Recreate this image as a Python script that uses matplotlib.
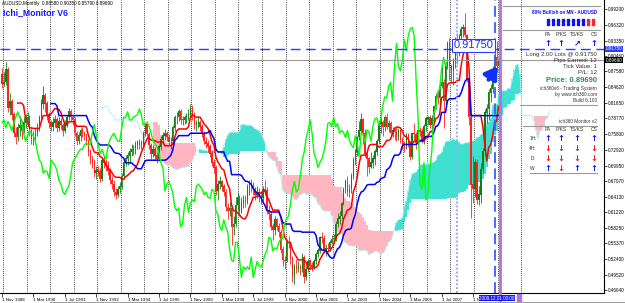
import numpy as np
import pandas as pd
import matplotlib.pyplot as plt

# AUDUSD monthly bars, Nov 1988 .. Dec 2009 (open = previous close)
first_open = 0.870
closes = [
    0.852, 0.856,
    0.880, 0.808, 0.820, 0.795, 0.760, 0.752, 0.770, 0.775, 0.765, 0.780, 0.785, 0.790,
    0.765, 0.750, 0.755, 0.760, 0.770, 0.790, 0.815, 0.830, 0.815, 0.795, 0.780, 0.772,
    0.780, 0.785, 0.770, 0.782, 0.775, 0.765, 0.778, 0.790, 0.800, 0.790, 0.785, 0.760,
    0.745, 0.755, 0.765, 0.760, 0.755, 0.745, 0.725, 0.710, 0.705, 0.685, 0.690, 0.688,
    0.675, 0.710, 0.705, 0.700, 0.690, 0.672, 0.665, 0.650, 0.645, 0.655, 0.660, 0.680,
    0.705, 0.712, 0.718, 0.725, 0.730, 0.730, 0.738, 0.742, 0.738, 0.740, 0.760, 0.776,
    0.758, 0.738, 0.722, 0.730, 0.718, 0.712, 0.735, 0.748, 0.755, 0.760, 0.752, 0.745,
    0.745, 0.770, 0.790, 0.790, 0.800, 0.785, 0.785, 0.790, 0.792, 0.795, 0.805, 0.795,
    0.775, 0.778, 0.780, 0.772, 0.760, 0.745, 0.740, 0.735, 0.722, 0.705, 0.695, 0.652,
    0.665, 0.670, 0.660, 0.650, 0.622, 0.615, 0.620, 0.585, 0.590, 0.625, 0.640, 0.612,
    0.630, 0.635, 0.632, 0.660, 0.665, 0.660, 0.655, 0.645, 0.650, 0.640, 0.638, 0.655,
    0.652, 0.615, 0.608, 0.585, 0.578, 0.598, 0.585, 0.575, 0.542, 0.522, 0.520, 0.556,
    0.555, 0.525, 0.490, 0.510, 0.505, 0.510, 0.505, 0.528, 0.490, 0.505, 0.520, 0.512,
    0.510, 0.520, 0.533, 0.540, 0.565, 0.563, 0.540, 0.545, 0.543, 0.555, 0.562, 0.563,
    0.590, 0.600, 0.605, 0.628, 0.655, 0.670, 0.650, 0.655, 0.680, 0.710, 0.725, 0.752,
    0.765, 0.785, 0.760, 0.722, 0.712, 0.696, 0.705, 0.712, 0.725, 0.745, 0.778, 0.780,
    0.772, 0.790, 0.772, 0.778, 0.760, 0.765, 0.762, 0.752, 0.765, 0.748, 0.738, 0.733,
    0.755, 0.742, 0.716, 0.760, 0.758, 0.742, 0.766, 0.763, 0.745, 0.773, 0.787, 0.789,
    0.775, 0.787, 0.810, 0.828, 0.826, 0.848, 0.855, 0.820, 0.885, 0.928, 0.885, 0.877,
    0.897, 0.935, 0.914, 0.942, 0.955, 0.958, 0.943, 0.860, 0.790, 0.664, 0.655, 0.705,
    0.635, 0.645, 0.693, 0.726, 0.798, 0.806, 0.836, 0.843, 0.880, 0.902, 0.886, 0.8969,
]
highs = [
    0.882, 0.875,
    0.893, 0.884, 0.835, 0.825, 0.800, 0.772, 0.780, 0.792, 0.785, 0.790, 0.796, 0.800,
    0.795, 0.770, 0.765, 0.770, 0.780, 0.795, 0.825, 0.848, 0.835, 0.820, 0.800, 0.785,
    0.790, 0.795, 0.790, 0.790, 0.788, 0.780, 0.785, 0.795, 0.808, 0.805, 0.795, 0.790,
    0.765, 0.762, 0.770, 0.772, 0.765, 0.760, 0.750, 0.730, 0.720, 0.712, 0.698, 0.698,
    0.695, 0.715, 0.718, 0.712, 0.708, 0.695, 0.680, 0.672, 0.658, 0.662, 0.668, 0.685,
    0.710, 0.720, 0.725, 0.732, 0.740, 0.738, 0.745, 0.748, 0.750, 0.748, 0.765, 0.780,
    0.782, 0.762, 0.742, 0.738, 0.735, 0.725, 0.740, 0.755, 0.762, 0.768, 0.765, 0.758,
    0.752, 0.775, 0.795, 0.800, 0.806, 0.805, 0.792, 0.795, 0.798, 0.805, 0.815, 0.812,
    0.800, 0.785, 0.790, 0.785, 0.778, 0.765, 0.752, 0.748, 0.740, 0.728, 0.712, 0.700,
    0.672, 0.680, 0.672, 0.665, 0.655, 0.630, 0.632, 0.625, 0.605, 0.640, 0.650, 0.645,
    0.640, 0.645, 0.645, 0.665, 0.672, 0.675, 0.668, 0.660, 0.662, 0.658, 0.650, 0.662,
    0.672, 0.660, 0.625, 0.615, 0.592, 0.605, 0.602, 0.592, 0.580, 0.548, 0.530, 0.562,
    0.568, 0.558, 0.530, 0.515, 0.525, 0.520, 0.515, 0.535, 0.532, 0.512, 0.525, 0.525,
    0.518, 0.525, 0.538, 0.545, 0.568, 0.575, 0.570, 0.552, 0.555, 0.560, 0.570, 0.572,
    0.595, 0.610, 0.615, 0.632, 0.660, 0.675, 0.680, 0.665, 0.685, 0.715, 0.730, 0.755,
    0.782, 0.798, 0.788, 0.768, 0.725, 0.715, 0.725, 0.720, 0.730, 0.750, 0.785, 0.790,
    0.785, 0.795, 0.798, 0.785, 0.782, 0.772, 0.770, 0.772, 0.770, 0.768, 0.752, 0.745,
    0.760, 0.760, 0.745, 0.762, 0.780, 0.762, 0.770, 0.772, 0.770, 0.778, 0.792, 0.792,
    0.795, 0.795, 0.812, 0.835, 0.838, 0.852, 0.888, 0.862, 0.888, 0.932, 0.939, 0.890,
    0.900, 0.940, 0.948, 0.945, 0.960, 0.965, 0.985, 0.945, 0.878, 0.800, 0.718, 0.712,
    0.712, 0.662, 0.705, 0.732, 0.805, 0.815, 0.842, 0.852, 0.885, 0.935, 0.933, 0.9035,
]
lows = [
    0.845, 0.848,
    0.850, 0.800, 0.795, 0.785, 0.752, 0.740, 0.745, 0.755, 0.750, 0.760, 0.770, 0.775,
    0.755, 0.740, 0.738, 0.745, 0.755, 0.765, 0.785, 0.805, 0.800, 0.785, 0.770, 0.765,
    0.765, 0.772, 0.762, 0.765, 0.768, 0.755, 0.760, 0.772, 0.785, 0.782, 0.775, 0.755,
    0.738, 0.740, 0.745, 0.752, 0.748, 0.738, 0.718, 0.702, 0.695, 0.678, 0.675, 0.680,
    0.668, 0.670, 0.695, 0.690, 0.682, 0.665, 0.655, 0.642, 0.637, 0.640, 0.648, 0.655,
    0.675, 0.698, 0.700, 0.705, 0.718, 0.720, 0.722, 0.730, 0.730, 0.730, 0.735, 0.755,
    0.750, 0.730, 0.712, 0.715, 0.710, 0.705, 0.708, 0.728, 0.740, 0.748, 0.745, 0.738,
    0.730, 0.738, 0.765, 0.778, 0.782, 0.778, 0.775, 0.778, 0.780, 0.785, 0.790, 0.785,
    0.768, 0.765, 0.770, 0.765, 0.752, 0.740, 0.732, 0.725, 0.715, 0.698, 0.685, 0.645,
    0.635, 0.655, 0.652, 0.642, 0.615, 0.600, 0.605, 0.550, 0.570, 0.585, 0.615, 0.605,
    0.610, 0.620, 0.622, 0.628, 0.645, 0.650, 0.645, 0.635, 0.638, 0.632, 0.628, 0.632,
    0.645, 0.608, 0.598, 0.578, 0.560, 0.570, 0.578, 0.565, 0.535, 0.512, 0.505, 0.518,
    0.545, 0.515, 0.482, 0.4775, 0.498, 0.500, 0.495, 0.500, 0.480, 0.485, 0.500, 0.505,
    0.502, 0.505, 0.515, 0.528, 0.535, 0.555, 0.535, 0.530, 0.538, 0.540, 0.552, 0.555,
    0.558, 0.585, 0.590, 0.600, 0.625, 0.648, 0.642, 0.640, 0.648, 0.675, 0.700, 0.718,
    0.748, 0.760, 0.740, 0.715, 0.680, 0.685, 0.695, 0.695, 0.700, 0.720, 0.740, 0.760,
    0.755, 0.765, 0.768, 0.762, 0.755, 0.752, 0.748, 0.745, 0.748, 0.742, 0.730, 0.725,
    0.730, 0.735, 0.710, 0.712, 0.745, 0.730, 0.738, 0.755, 0.742, 0.740, 0.765, 0.775,
    0.770, 0.772, 0.780, 0.805, 0.815, 0.815, 0.845, 0.770, 0.815, 0.880, 0.860, 0.855,
    0.850, 0.882, 0.890, 0.905, 0.925, 0.940, 0.940, 0.855, 0.775, 0.601, 0.630, 0.640,
    0.628, 0.625, 0.630, 0.685, 0.720, 0.780, 0.785, 0.818, 0.835, 0.865, 0.875, 0.8579,
]

price_ticks = [0.99200, 0.96320, 0.93350, 0.90460, 0.87580, 0.84620, 0.81650, 0.78770,
               0.75800, 0.72920, 0.69950, 0.67070, 0.64130, 0.61220, 0.58250, 0.55370,
               0.52400, 0.49520, 0.46640]
# the last date label is hidden behind the cursor date box, only "1 N" shows
date_labels = ["1 Nov 1988", "1 Mar 1990", "1 Jul 1991", "1 Nov 1992", "1 Mar 1994",
               "1 Jul 1995", "1 Nov 1996", "1 Mar 1998", "1 Jul 1999", "1 Nov 2000",
               "1 Mar 2002", "1 Jul 2003", "1 Nov 2004", "1 Mar 2006", "1 Jul 2007",
               "1 N"]
entry_price = 0.91750
bid_price = 0.89690

plt.rcParams['font.family'] = ['Liberation Sans', 'DejaVu Sans']

W, H = 625, 303
fig = plt.figure(figsize=(W / 100, H / 100), dpi=100)
ax = fig.add_axes([0, 10 / H, 604 / W, 293 / H])


def ftext(x, y, s, **kw):
    # text placed in screen pixels (from top-left)
    kw.setdefault('va', 'center')
    return fig.text(x / W, 1 - y / H, s, **kw)


def fline(x0, x1, y, **kw):
    fig.add_artist(plt.Line2D([x0 / W, x1 / W], [1 - y / H, 1 - y / H], **kw))


n = len(closes)
xs = np.arange(n)
c = np.array(closes)
o = np.concatenate([[first_open], c[:-1]])
hi = pd.Series(highs)
lo = pd.Series(lows)

# ichimoku 9 / 26 / 52
tenkan = (hi.rolling(9).max() + lo.rolling(9).min()) / 2
kijun = (hi.rolling(26).max() + lo.rolling(26).min()) / 2
span_a = ((tenkan + kijun) / 2).values
span_b = ((hi.rolling(52).max() + lo.rolling(52).min()) / 2).values
xc = xs + 26

ax.fill_between(xc, span_a, span_b, where=span_a >= span_b, step='mid',
                color='#40e0d0', lw=0, zorder=1)
ax.fill_between(xc, span_a, span_b, where=span_a < span_b, step='mid',
                color='#ffb6c1', lw=0, zorder=1)
ax.plot(xc, span_a, color='#b0f0f0', lw=0.7, zorder=1.2)

# candles
up = c >= o
col = np.where(up, '#138013', '#ff2020')
ax.vlines(xs, lows, highs, colors=col, lw=0.6, zorder=2)
ax.bar(xs, np.abs(c - o) + 0.0008, bottom=np.minimum(o, c), width=0.75,
       color=col, lw=0, zorder=2.1)

ax.plot(xs, tenkan, color='#ff0000', lw=1.1, zorder=3)
ax.plot(xs, kijun, color='#0000ff', lw=1.1, zorder=3)
ax.plot(xs[26:] - 26, c[26:], color='#00ff00', lw=1.0, zorder=3)

# yearly grid
for gx in range(0, 266, 12):
    ax.axvline(gx + 0.5, color='black', lw=0.6, ls=(0, (1, 1.6)), zorder=0.5)

# trade lines
ax.axhline(entry_price, color='#2a3cff', lw=1.0, ls=(0, (7, 4)), zorder=4)
ax.axhline(bid_price, color='#9a9a9a', lw=0.8, zorder=4)
ax.axvline(232, color='#9aa8ff', lw=1.4, ls=(0, (1, 1)), zorder=4)
ax.axvline(251.4, color='#3c5aff', lw=1.3, ls=(0, (6, 3)), zorder=4)
ax.axvline(253.8, ymin=-10 / 293, ymax=1, color='#b46ee6', lw=2.0, zorder=4,
           clip_on=False)
# buy arrow (screen pixels, origin bottom-left)
ax.annotate('', xy=(499, H - 64), xytext=(487, H - 82), xycoords='figure pixels',
            textcoords='figure pixels',
            arrowprops=dict(arrowstyle='-|>,head_width=0.45,head_length=0.7',
                            color='#1030ff', lw=3), zorder=5)
ax.text(240.3, entry_price + 0.0075, '0.91750', fontsize=8, color='#1a2cff',
        ha='center', va='center', zorder=6,
        family=['Liberation Sans Narrow', 'Liberation Sans'],
        bbox=dict(boxstyle='square,pad=0.14', fc='white', ec='#2a3cff', lw=0.8))

ax.set_xlim(-1.02, 306.75)
ax.set_ylim(0.4609, 1.0094)
ax.yaxis.tick_right()
ax.set_yticks(price_ticks)
ax.set_yticklabels([f'{p:.5f}' for p in price_ticks])
ax.set_xticks(xs[::16][:len(date_labels)])
ax.set_xticklabels(date_labels)
for lbl in ax.get_xticklabels():
    lbl.set_ha('left')
ax.tick_params(axis='y', labelsize=3.3, length=2, width=0.5, pad=1)
ax.tick_params(axis='x', labelsize=3.2, length=3, width=0.5, pad=0.5)
ax.spines['top'].set_visible(False)
ax.spines['left'].set_visible(False)
ax.spines['right'].set_linewidth(0.8)
ax.spines['bottom'].set_linewidth(0.8)

# price tags on the axis
ftext(614, 49, '0.91750', fontsize=3.3, color='white', ha='center',
      bbox=dict(boxstyle='square,pad=0.15', fc='#2a3cff', ec='none'))
ftext(614, 60, '0.89690', fontsize=3.3, color='white', ha='center',
      bbox=dict(boxstyle='square,pad=0.15', fc='black', ec='none'))
ftext(497, 298, '2009.12.01 00:00', fontsize=3.3, color='white', ha='center',
      bbox=dict(boxstyle='square,pad=0.15', fc='#1a1aff', ec='none'))
fig.add_artist(plt.Rectangle((517 / W, 1 - 302 / H), 4 / W, 8 / H, color='#b46ee6'))
fline(50, 625, 302, color='#a0a0a0', lw=0.8)

# header
ftext(2, 4, 'AUDUSD,Monthly  0.88580 0.90350 0.85790 0.89690', fontsize=3.3)
ftext(3, 12.5, 'Ichi_Monitor V6', fontsize=6.2, color='#1818ff', fontweight='bold')

# ich360 panel
gray = '#9a9a9a'
txt = '#333333'
fline(503, 600, 6, color=gray, lw=0.8)
ftext(597, 13, '80% Bullish on MN - AUDUSD', fontsize=3.3, color='#1010ee',
      fontweight='bold', ha='right')
for k in range(10):
    sc = '#1010ee' if k < 8 else '#ff2020'
    for yy in (20.5, 24):
        fig.add_artist(plt.Rectangle(((547 + 5 * k) / W, 1 - (yy + 1.2) / H),
                                     2.4 / W, 2.4 / H, color=sc))
fline(503, 600, 30, color=gray, lw=0.8)
heads = ['PA', 'P/KS', 'TS/KS', 'CS']
cols_x = [548, 561, 577, 594]
for hx, hs in zip(cols_x, heads):
    ftext(hx, 34.5, hs, fontsize=3.6, color=txt, ha='center')
for hx, ar in zip(cols_x, ['↑', '↑', '↗', '↑']):
    ftext(hx, 43, ar, fontsize=6, color='#0a1aff', ha='center', fontweight='bold',
          family='DejaVu Sans')
ftext(597, 54.5, 'Long 2.00 Lots @ 0.91750', fontsize=4.3, color=txt, ha='right')
ftext(597, 60.5, 'Pips Earned: 12', fontsize=4.3, color=txt, ha='right')
ftext(597, 66.5, 'Tick Value: 1', fontsize=4.3, color=txt, ha='right')
ftext(597, 72, 'P/L: 12', fontsize=4.3, color=txt, ha='right')
ftext(597, 80.5, 'Price: 0.89690', fontsize=5.5, color='#2e8b57', ha='right',
      fontweight='bold')
ftext(597, 88.5, 'ich360v6 - Trading System', fontsize=3.4, color=txt, ha='right')
ftext(597, 94.5, 'by www.ich360.com', fontsize=3.4, color=txt, ha='right')
ftext(597, 100, 'Build 6.103', fontsize=3.4, color=txt, ha='right')
fline(520, 597, 105, color=gray, lw=0.8)

ftext(597, 121, 'ich360 Monitor v2', fontsize=3.4, color=txt, ha='right')
fline(523, 597, 125.5, color=gray, lw=0.8)
for hx, hs in zip(cols_x, heads):
    ftext(hx, 129.5, hs, fontsize=3.6, color=txt, ha='center')
rows = ['1H:', '4H:', 'D:', 'W:']
signals = [['u', 'u', 'u', 'u'], ['d', 'd', 'd', 'd'], ['d', 'd', 'd', 'd'],
           ['u', 'd', 'u', 'u']]
for ry, (rl, sig) in zip([138.5, 148.5, 158.5, 168.5], zip(rows, signals)):
    ftext(533, ry, rl, fontsize=3.4, color=txt, ha='center')
    for hx, s in zip(cols_x, sig):
        if s == 'u':
            ftext(hx, ry, '↑', fontsize=6, color='#0a1aff', ha='center',
                  fontweight='bold', family='DejaVu Sans')
        else:
            ftext(hx, ry, '↓', fontsize=6, color='#ff1010', ha='center',
                  fontweight='bold', family='DejaVu Sans')
fline(530, 597, 173, color=gray, lw=0.8)

fig.savefig('out.png', dpi=100)
